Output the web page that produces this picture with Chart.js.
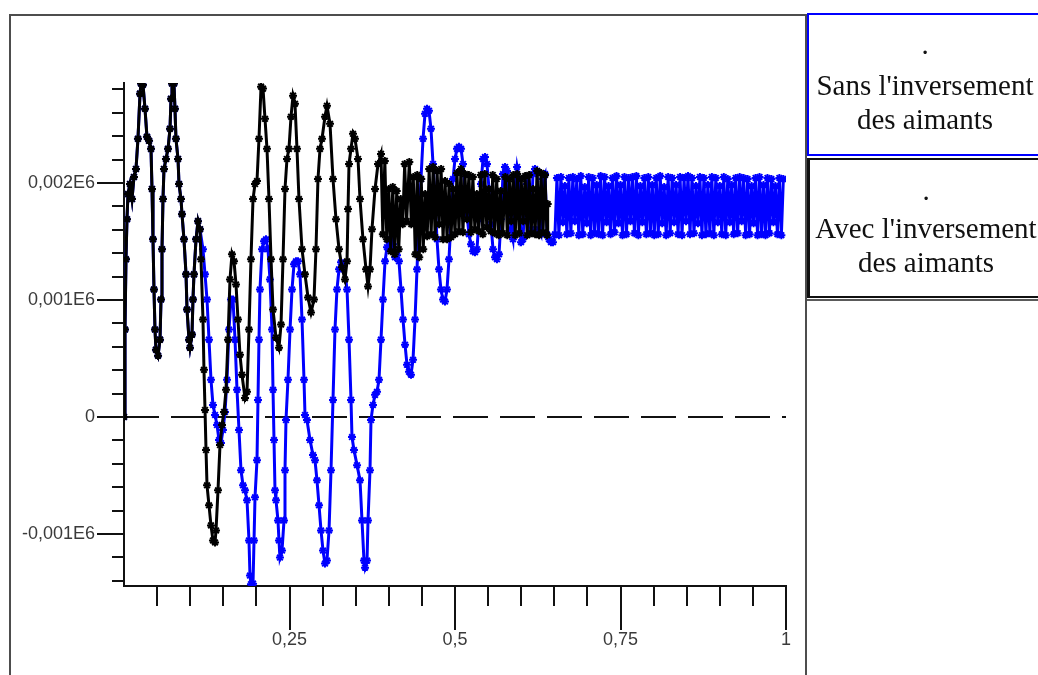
<!DOCTYPE html>
<html>
<head>
<meta charset="utf-8">
<title>Couple - avec / sans inversement des aimants</title>
<script src="https://cdn.jsdelivr.net/npm/chart.js@4.4.1/dist/chart.umd.min.js"></script>
<style>
  html, body { margin: 0; padding: 0; background: #fff; }
  body { width: 1038px; height: 675px; position: relative; overflow: hidden; }
  #chart { position: absolute; left: 0; top: 0; }
  /* cadre du graphe */
  .frame { position: absolute; left: 9px; top: 14px; width: 794px; height: 720px;
           border: 2px solid #4d4d4d; border-bottom: none; }
  /* cases de legende */
  .box { position: absolute; left: 807px; width: 250px; box-sizing: border-box;
         font-family: "Liberation Serif", "Times New Roman", serif; font-size: 29px;
         line-height: 34px; color: #111; }
  .box .l { width: 232px; text-align: center; white-space: nowrap; }
  #box1 { top: 13px; height: 143px; border: 2px solid #0000ff; padding-top: 12px; }
  #box1 .dot { margin-bottom: 7px; }
  #box2 { top: 158px; height: 140px; border: 2px solid #111; border-left-width: 3px; padding-top: 13px; }
  #box2 .dot { margin-bottom: 4px; }
  #box3 { top: 299px; height: 400px; border-top: 2px solid #5a5a5a; }
</style>
</head>
<body>
<canvas id="chart" width="1038" height="675"></canvas>
<div class="frame"></div>
<div class="box" id="box1">
  <div class="l dot">.</div>
  <div class="l">Sans l'inversement</div>
  <div class="l">des aimants</div>
</div>
<div class="box" id="box2">
  <div class="l dot">.</div>
  <div class="l">Avec l'inversement</div>
  <div class="l">des aimants</div>
</div>
<div class="box" id="box3"></div>

<script>
// ---------------------------------------------------------------
// Donnees. Temps en ms, couple en unites brutes
// (0,002E6 = 2000). L'axe x est affiche en secondes.
// ---------------------------------------------------------------

// debut commun aux deux courbes (0 - 115 ms)
const startT = [0, 1.5, 3, 4.5, 6, 9.1, 12.1, 15.1, 18.1, 21.1,
  24.2, 25.7, 28.7, 31.7, 34.7, 37.8, 40.8, 42.3, 43.8, 45.3,
  46.8, 48.3, 51.4, 54.4, 55.9, 57.4, 58.9, 60.4, 63.4, 66.5,
  69.5, 71, 72.5, 75.5, 77, 78.5, 81.6, 83.1, 86.1, 87.6,
  90.6, 93.7, 95.2, 98.2, 99.7, 102.7, 104.2, 105.7, 108.8, 111.8,
  114.8];
const startV = [0, 747, 1348, 1691, 1906, 1992, 1863, 2052, 2120, 2378,
  2764, 2850, 2841, 2635, 2395, 2361, 2292, 1949, 1519, 1090,
  747, 575, 524, 661, 1004, 1434, 1863, 2120, 2206, 2292,
  2464, 2721, 2850, 2850, 2635, 2378, 2206, 1991, 1863, 1734,
  1519, 1219, 918, 661, 592, 704, 1004, 1219, 1519, 1674,
  1605];

// avec l'inversement (noir) : regime transitoire
const avecT = [116.3, 119.3, 120.8, 122.4, 123.9, 125.4, 128.4, 131.4, 134.4, 137.5,
  139, 142, 145, 148, 151.1, 154.1, 157.1, 160.1, 163.1, 166.2,
  169.2, 172.2, 175.2, 178.2, 182.8, 185.8, 188.8, 191.8, 194.9, 197.9,
  200.9, 203.9, 207, 210, 213, 216, 219, 222.1, 225.1, 229.6,
  234.1, 237.2, 240.2, 243.2, 246.2, 249.2, 252.3, 255.3, 258.3, 261.3,
  264.3, 268.9, 273.4, 278, 282.5, 287, 290, 293, 296.1, 299.1,
  303.6, 306.6, 311.2, 315.7, 320.2, 324.8, 329.3, 333.8, 336.9, 338.4,
  339.9, 342.9, 345.9, 348.9, 353.5, 356.5, 361, 365.6, 368.6, 371.6,
  374.6, 379.2, 383.7, 388.2];
const avecV = [1348, 833, 403, 60, -283, -584, -755, -927, -1056, -1073,
  -970, -627, -240, -69, 43, 232, 661, 1176, 1391, 1331,
  1133, 833, 532, 361, 163, 215, 747, 1348, 1863, 1991,
  2017, 2378, 2824, 2807, 2549, 2292, 1863, 1348, 918, 678,
  592, 790, 1348, 1949, 2206, 2292, 2567, 2747, 2678, 2292,
  1863, 1434, 1219, 1021, 893, 1004, 1434, 2034, 2292, 2378,
  2567, 2661, 2506, 2034, 1691, 1434, 1279, 1176, 1331, 1777,
  2163, 2292, 2421, 2378, 2206, 1863, 1519, 1262, 1116, 1262,
  1605, 1949, 2163, 2249];

// avec l'inversement (noir) : ondulation de couple
const avecRipT = [391, 394, 397, 400, 403, 406, 409, 412, 415, 418,
  421, 424, 427, 431, 434, 437, 440, 443, 446, 449,
  452, 455, 458, 461, 464, 467, 470, 473, 476, 479,
  482, 485, 488, 491, 494, 497, 500, 503, 506, 509,
  512, 515, 518, 521, 524, 527, 530, 533, 536, 539,
  542, 545, 548, 551, 554, 557, 560, 563, 566, 569,
  572, 576, 579, 582, 585, 588, 591, 594, 597, 600,
  603, 606, 609, 612, 615, 618, 621, 624, 627, 630,
  633, 636, 639, 640];
const avecRipV = [1562, 2189, 1519, 1949, 1416, 1966, 1391, 1931, 1434, 1863,
  1648, 2163, 1674, 2180, 1648, 2052, 1391, 2069, 1365, 2034,
  1434, 1906, 1545, 2120, 1562, 2137, 1537, 2103, 1648, 2120,
  1519, 2017, 1519, 1991, 1537, 1949, 1562, 2086, 1588, 2120,
  1579, 2077, 1691, 2069, 1579, 2052, 1605, 1906, 1588, 2069,
  1562, 2077, 1622, 1949, 1588, 2069, 1571, 2034, 1554, 1931,
  1571, 2052, 1554, 2034, 1674, 2069, 1554, 2077, 1571, 2034,
  1674, 2060, 1554, 2069, 1571, 1949, 1562, 2103, 1554, 2086,
  1579, 2069, 1554, 1820];

// sans l'inversement (bleu) : regime transitoire
const sansT = [119.3, 122.4, 125.4, 128.4, 131.4, 134.4, 137.5, 140.5, 143.5, 146.5,
  149.5, 152.6, 155.6, 158.6, 161.6, 164.7, 167.7, 170.7, 173.7, 176.7,
  179.8, 182.8, 185.8, 188.8, 190.3, 191.8, 194.9, 196.4, 197.9, 200.9,
  202.4, 203.9, 205.4, 208.5, 211.5, 214.5, 217.5, 220.5, 223.6, 225.1,
  226.6, 228.1, 229.6, 232.6, 234.1, 235.6, 238.7, 241.7, 243.2, 244.7,
  247.7, 250.8, 253.8, 256.8, 259.8, 262.8, 265.9, 268.9, 271.9, 273.4,
  276.4, 281, 285.5, 288.5, 291.5, 294.6, 297.6, 300.6, 303.6, 306.6,
  309.7, 312.7, 315.7, 318.7, 321.7, 324.8, 327.8, 332.3, 336.9, 339.9,
  342.9, 344.4, 347.4, 352, 356.5, 359.5, 362.5, 364.1, 367.1, 368.6,
  371.6, 373.1, 376.1, 379.2, 382.2, 385.2, 388.2, 391.2, 394.3, 397.3,
  400.3, 403.3, 406.3, 409.4, 412.4, 415.4, 418.4, 421.5, 424.5, 427.5,
  430.5, 433.5, 436.6, 439.6, 442.6, 445.6, 448.6, 451.7, 454.7, 457.7,
  460.7, 463.7, 466.8, 469.8, 472.8, 475.8, 478.8, 481.9, 484.9, 487.9,
  490.9, 494, 497, 500, 503, 506, 509.1, 512.1, 515.1, 518.1,
  521.1, 524.2, 527.2, 530.2, 533.2, 536.3, 539.3, 542.3, 545.3, 548.3,
  551.4, 554.4, 557.4, 560.4, 563.4, 566.5, 569.5, 572.5, 575.5, 578.5,
  581.6, 584.6, 587.6, 590.6, 593.7, 596.7, 599.7, 602.7, 605.7, 608.8,
  611.8, 614.8, 617.8, 620.8, 623.9, 626.9, 629.9, 632.9, 636, 639,
  642, 645, 648];
const sansV = [1434, 1219, 1004, 661, 318, 103, 17, -69, -197, -223,
  -112, 43, 318, 747, 1004, 1004, 661, 232, -112, -455,
  -584, -627, -712, -1056, -1356, -1430, -1425, -1056, -687, -369,
  146, 661, 1090, 1434, 1502, 1519, 1434, 1176, 747, 232,
  -197, -627, -712, -884, -1056, -1202, -1142, -884, -455, -26,
  318, 747, 1090, 1305, 1331, 1331, 1219, 833, 318, 17,
  -26, -197, -326, -369, -541, -755, -970, -1142, -1253, -1228,
  -970, -455, 146, 747, 1090, 1262, 1322, 1305, 1090, 661,
  146, -172, -283, -412, -541, -884, -1228, -1288, -1228, -884,
  -455, -26, 103, 189, 215, 318, 661, 1004, 1331, 1451,
  1494, 1519, 1477, 1365, 1382, 1331, 1090, 833, 618, 446,
  386, 361, 489, 833, 1262, 1691, 2034, 2378, 2592, 2635,
  2618, 2464, 2163, 1863, 1519, 1262, 1090, 1004, 987, 1090,
  1348, 1691, 2034, 2206, 2292, 2309, 2292, 2163, 1949, 1734,
  1562, 1477, 1416, 1408, 1434, 1691, 1991, 2206, 2223, 2163,
  1949, 1648, 1434, 1365, 1348, 1391, 1691, 2077, 2137, 2103,
  1863, 1605, 1519, 1949, 2137, 2034, 1494, 1519, 1863, 1991,
  1863, 1605, 2077, 2120, 2103, 1605, 1562, 2034, 2077, 1562,
  1519, 1494, 1494];

// sans l'inversement (bleu) : ondulation en regime etabli
const sansRipT = [651, 654, 657, 660, 663, 666, 669, 672, 675, 678,
  681, 684, 687, 690, 693, 696, 699, 702, 705, 708,
  711, 714, 717, 720, 723, 726, 729, 732, 735, 738,
  741, 744, 747, 750, 753, 756, 759, 762, 765, 768,
  771, 774, 777, 780, 783, 786, 789, 792, 795, 798,
  801, 804, 807, 810, 813, 816, 819, 822, 825, 828,
  831, 834, 837, 840, 843, 846, 849, 852, 855, 858,
  861, 864, 867, 870, 873, 876, 879, 882, 885, 888,
  891, 894, 897, 900, 903, 906, 909, 912, 915, 918,
  921, 924, 927, 930, 933, 936, 939, 942, 945, 948,
  951, 954, 957, 960, 963, 966, 969, 972, 975, 978,
  981, 984, 987, 990, 993, 996];
const sansRipV = [1562, 2043, 1554, 2052, 1665, 1975, 1562, 2043, 1571, 2052,
  1674, 2034, 1554, 2060, 1562, 1966, 1657, 2052, 1554, 2043,
  1571, 1983, 1562, 2060, 1554, 2052, 1665, 1975, 1562, 2043,
  1579, 2060, 1657, 1983, 1554, 2052, 1562, 2043, 1674, 2052,
  1571, 2060, 1554, 1975, 1665, 2043, 1562, 2052, 1571, 1983,
  1554, 2043, 1562, 2060, 1657, 1966, 1554, 2052, 1571, 2043,
  1665, 1983, 1562, 2052, 1554, 2043, 1674, 2060, 1562, 2043,
  1571, 1975, 1657, 2052, 1554, 2043, 1562, 1983, 1571, 2052,
  1554, 2043, 1665, 1975, 1562, 2052, 1554, 2034, 1665, 1983,
  1562, 2043, 1571, 2052, 1674, 2043, 1554, 2034, 1562, 1975,
  1657, 2043, 1554, 2052, 1562, 1983, 1554, 2043, 1571, 2034,
  1665, 1975, 1562, 2043, 1554, 2034];

// ligne du zero (pointillee)
const zeroT = [0, 1000];
const zeroV = [0, 0];

// graduations
const xMajor = [0.25, 0.5, 0.75, 1];
const xMajorLabels = ['0,25', '0,5', '0,75', '1'];
const yMajor = [-1000, 0, 1000, 2000];
const yMajorLabels = ['-0,001E6', '0', '0,001E6', '0,002E6'];

// ---------------------------------------------------------------
function toPoints(t, v) {
  const n = Math.min(t.length, v.length);
  const out = [];
  for (let i = 0; i < n; i++) out.push({ x: t[i] / 1000, y: v[i] });
  return out;
}
const avecPts = toPoints(startT.concat(avecT, avecRipT), startV.concat(avecV, avecRipV));
const sansPts = toPoints(startT.concat(sansT, sansRipT), startV.concat(sansV, sansRipV));
const zeroPts = toPoints(zeroT, zeroV);

function labelFor(value, vals, labels) {
  const i = vals.findIndex((m) => Math.abs(m - value) < 1e-6);
  return i >= 0 ? labels[i] : '';
}

// graduations principales plus longues que les secondaires
const majorTicks = {
  id: 'majorTicks',
  afterDraw(chart) {
    const { ctx, chartArea } = chart;
    const x = chart.scales.x, y = chart.scales.y;
    ctx.save();
    ctx.strokeStyle = '#111';
    ctx.lineWidth = 2;
    ctx.beginPath();
    xMajor.forEach((v) => {
      const px = Math.round(x.getPixelForValue(v));
      ctx.moveTo(px, chartArea.bottom);
      ctx.lineTo(px, chartArea.bottom + 44);
    });
    yMajor.forEach((v) => {
      const py = Math.round(y.getPixelForValue(v));
      ctx.moveTo(chartArea.left, py);
      ctx.lineTo(chartArea.left - 27, py);
    });
    ctx.stroke();
    ctx.restore();
  },
};

const tickFont = { family: '"Liberation Sans", Arial, sans-serif', size: 18 };

// style commun aux deux courbes : trait epais + marqueurs en etoile
const traceStyle = {
  showLine: true,
  borderWidth: 3,
  pointStyle: 'star',
  pointRadius: 4,
  pointBorderWidth: 2,
};

new Chart(document.getElementById('chart'), {
  type: 'scatter',
  data: {
    datasets: [
      Object.assign({
        label: "Avec l'inversement des aimants",
        data: avecPts,
        borderColor: '#000',
        backgroundColor: '#000',
        order: 1,
      }, traceStyle),
      Object.assign({
        label: "Sans l'inversement des aimants",
        data: sansPts,
        borderColor: '#0000ff',
        backgroundColor: '#0000ff',
        order: 2,
      }, traceStyle),
      {
        label: 'zero',
        data: zeroPts,
        showLine: true,
        borderColor: '#111',
        borderWidth: 2,
        borderDash: [35, 12],
        pointRadius: 0,
        order: 3,
      },
    ],
  },
  options: {
    responsive: false,
    animation: false,
    devicePixelRatio: 1,
    events: [],
    layout: { padding: { top: 83, right: 252, bottom: 0, left: 0 } },
    plugins: { legend: { display: false }, tooltip: { enabled: false } },
    scales: {
      x: {
        type: 'linear',
        min: 0,
        max: 1,
        afterFit: (s) => { s.height = 89; },
        grid: {
          drawOnChartArea: false,
          tickLength: 20,
          lineWidth: 2,
          tickColor: (c) => (c.tick && c.tick.value === 0 ? 'rgba(0,0,0,0)' : '#111'),
        },
        border: { color: '#111', width: 2 },
        ticks: {
          stepSize: 0.05,
          autoSkip: false,
          maxRotation: 0,
          padding: 23,
          color: '#3a3a3a',
          font: tickFont,
          callback: (v) => labelFor(v, xMajor, xMajorLabels),
        },
      },
      y: {
        type: 'linear',
        min: -1445,
        max: 2855,
        afterFit: (s) => { s.width = 124; },
        grid: { drawOnChartArea: false, tickLength: 12, lineWidth: 2, tickColor: '#111' },
        border: { color: '#111', width: 2 },
        ticks: {
          stepSize: 200,
          includeBounds: false,
          autoSkip: false,
          padding: 17,
          color: '#3a3a3a',
          font: tickFont,
          callback: (v) => labelFor(v, yMajor, yMajorLabels),
        },
      },
    },
  },
  plugins: [majorTicks],
});
</script>
</body>
</html>
